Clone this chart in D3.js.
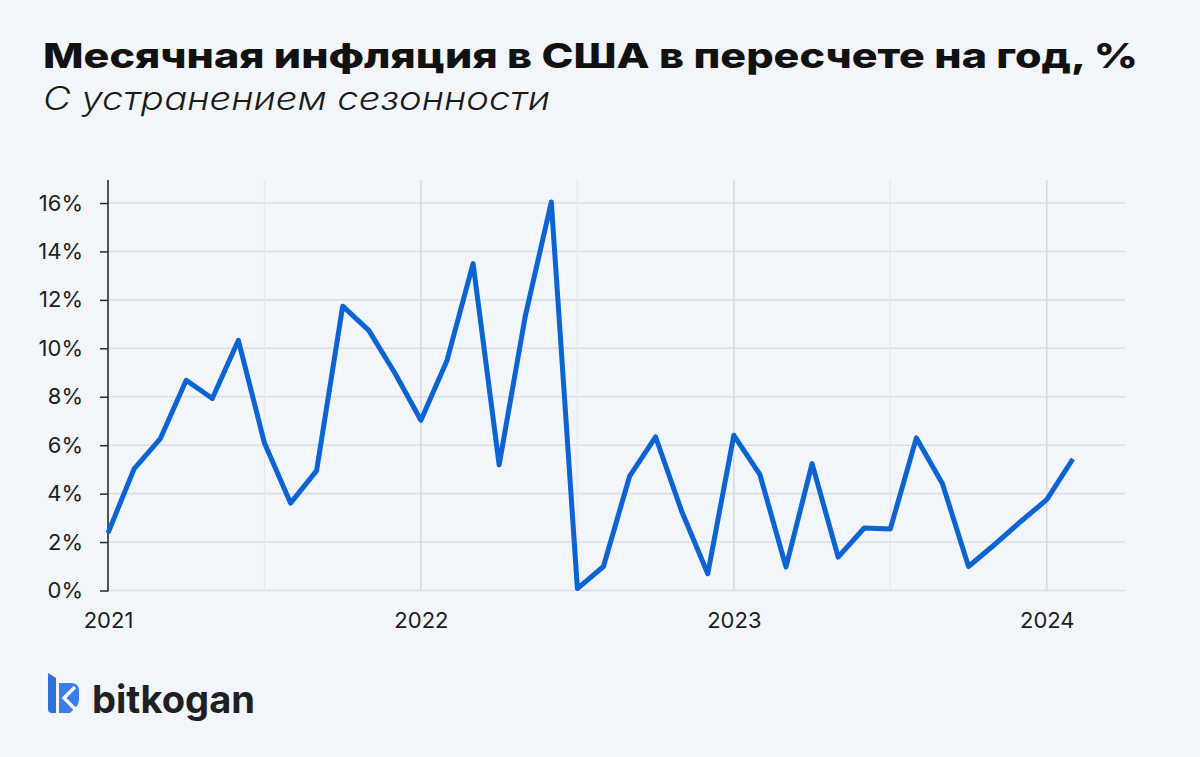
<!DOCTYPE html>
<html>
<head>
<meta charset="utf-8">
<script src="https://cdn.jsdelivr.net/npm/d3@7"></script>
<style>
  html, body { margin: 0; padding: 0; background: #f2f5f9; }
  svg { display: block; }
</style>
</head>
<body>
<svg id="chart" width="1200" height="757"></svg>
<script>
// ---- data ----
const monthIndex = d3.range(0, 38); // Jan 2021 .. Feb 2024
const inflation2021 = [2.37, 5.02, 6.26, 8.68, 7.93, 10.33, 6.09, 3.61, 4.95, 11.74, 10.74, 8.98];
const inflation2022 = [7.03, 9.5, 13.5, 5.19, 11.32, 16.04, 0.08, 0.99, 4.71, 6.34, 3.27, 0.69];
const inflation2023 = [6.41, 4.78, 0.97, 5.24, 1.38, 2.58, 2.54, 6.30, 4.41, 0.99, 1.9, 2.85];
const inflation2024 = [3.75, 5.43];
const values = [...inflation2021, ...inflation2022, ...inflation2023, ...inflation2024];
const yearLabels = ["2021", "2022", "2023", "2024"];
const yearTickIdx = [0, 12, 24, 36];
const halfYearIdx = [6, 18, 30];
const yTicks = [0, 2, 4, 6, 8, 10, 12, 14, 16];
const titleText = "Месячная инфляция в США в пересчете на год, %";
const subtitleText = "С устранением сезонности";
const brandText = "bitkogan";

// ---- layout ----
const svg = d3.select("#chart");
const FONT = "Inter, 'Open Sans', 'DejaVu Sans', sans-serif";
const x = d3.scaleLinear().domain([0, 39]).range([108, 1125]);
const y = d3.scaleLinear().domain([0, 16.95]).range([590.5, 180]);

svg.append("rect").attr("width", 1200).attr("height", 757).attr("fill", "#f2f5f9");

// title / subtitle
svg.append("text")
  .attr("x", 43).attr("y", 67.5)
  .attr("font-family", FONT).attr("font-weight", 800).attr("font-size", 34)
  .attr("fill", "#111")
  .attr("textLength", 1095).attr("lengthAdjust", "spacingAndGlyphs")
  .text(titleText);
svg.append("text")
  .attr("x", 43).attr("y", 110)
  .attr("font-family", FONT).attr("font-weight", 300).attr("font-style", "italic").attr("font-size", 32)
  .attr("fill", "#1a1a1a")
  .attr("textLength", 507).attr("lengthAdjust", "spacingAndGlyphs")
  .text(subtitleText);

// horizontal grid
svg.append("g").selectAll("line").data(yTicks).join("line")
  .attr("x1", x(0)).attr("x2", x(39))
  .attr("y1", d => y(d)).attr("y2", d => y(d))
  .attr("stroke", "#dcdee3").attr("stroke-width", 1.6);

// vertical grid
svg.append("g").selectAll("line").data(halfYearIdx).join("line")
  .attr("x1", d => x(d)).attr("x2", d => x(d))
  .attr("y1", 180).attr("y2", y(0))
  .attr("stroke", "#e6e8ec").attr("stroke-width", 1.4);
svg.append("g").selectAll("line").data(yearTickIdx.slice(1)).join("line")
  .attr("x1", d => x(d)).attr("x2", d => x(d))
  .attr("y1", 180).attr("y2", y(0))
  .attr("stroke", "#d8dadf").attr("stroke-width", 1.6);

// y axis
const yAxis = svg.append("g").attr("transform", `translate(${x(0)},0)`)
  .call(d3.axisLeft(y).tickValues(yTicks).tickSize(8).tickPadding(17).tickFormat(d => d + "%"));
yAxis.select(".domain").remove();
yAxis.selectAll(".tick line").attr("stroke", "#2a2a2a").attr("stroke-width", 1.5);
yAxis.selectAll(".tick text")
  .attr("font-family", FONT).attr("font-size", 22).attr("fill", "#1d1d1d");
svg.append("line")
  .attr("x1", x(0)).attr("x2", x(0)).attr("y1", 180).attr("y2", y(0) + 1)
  .attr("stroke", "#2a2a2a").attr("stroke-width", 1.6);

// x axis
const xAxis = svg.append("g").attr("transform", `translate(0,${y(0)})`)
  .call(d3.axisBottom(x).tickValues(yearTickIdx).tickSize(0).tickPadding(22)
    .tickFormat((d, i) => yearLabels[i]));
xAxis.select(".domain").remove();
xAxis.selectAll(".tick text")
  .attr("font-family", FONT).attr("font-size", 22).attr("fill", "#1d1d1d");

// line
const line = d3.line().x((d, i) => x(monthIndex[i])).y(d => y(d));
svg.append("path").datum(values)
  .attr("d", line)
  .attr("fill", "none").attr("stroke", "#0b63d4").attr("stroke-width", 5)
  .attr("stroke-linejoin", "round").attr("stroke-linecap", "butt");

// brand logo
const logo = svg.append("g");
logo.append("path")
  .attr("d", "M48,673 L56,678 L56,713 L52,713 Q48,713 48,709 Z")
  .attr("fill", "#2f6fdc");
logo.append("path")
  .attr("d", "M59,683 L71,683 Q79,683 79,691 L79,700 Q79,704 76,707 L70,713 L59,713 Z")
  .attr("fill", "#3a7de6");
logo.append("path")
  .attr("d", "M75,687 L64,698 L75,709")
  .attr("fill", "none").attr("stroke", "#f2f5f9").attr("stroke-width", 3.5)
  .attr("stroke-linejoin", "miter");
logo.append("text")
  .attr("x", 92).attr("y", 713)
  .attr("font-family", FONT).attr("font-weight", 700).attr("font-size", 38)
  .attr("fill", "#1f1f24")
  .attr("textLength", 163).attr("lengthAdjust", "spacingAndGlyphs")
  .text(brandText);
</script>
</body>
</html>
